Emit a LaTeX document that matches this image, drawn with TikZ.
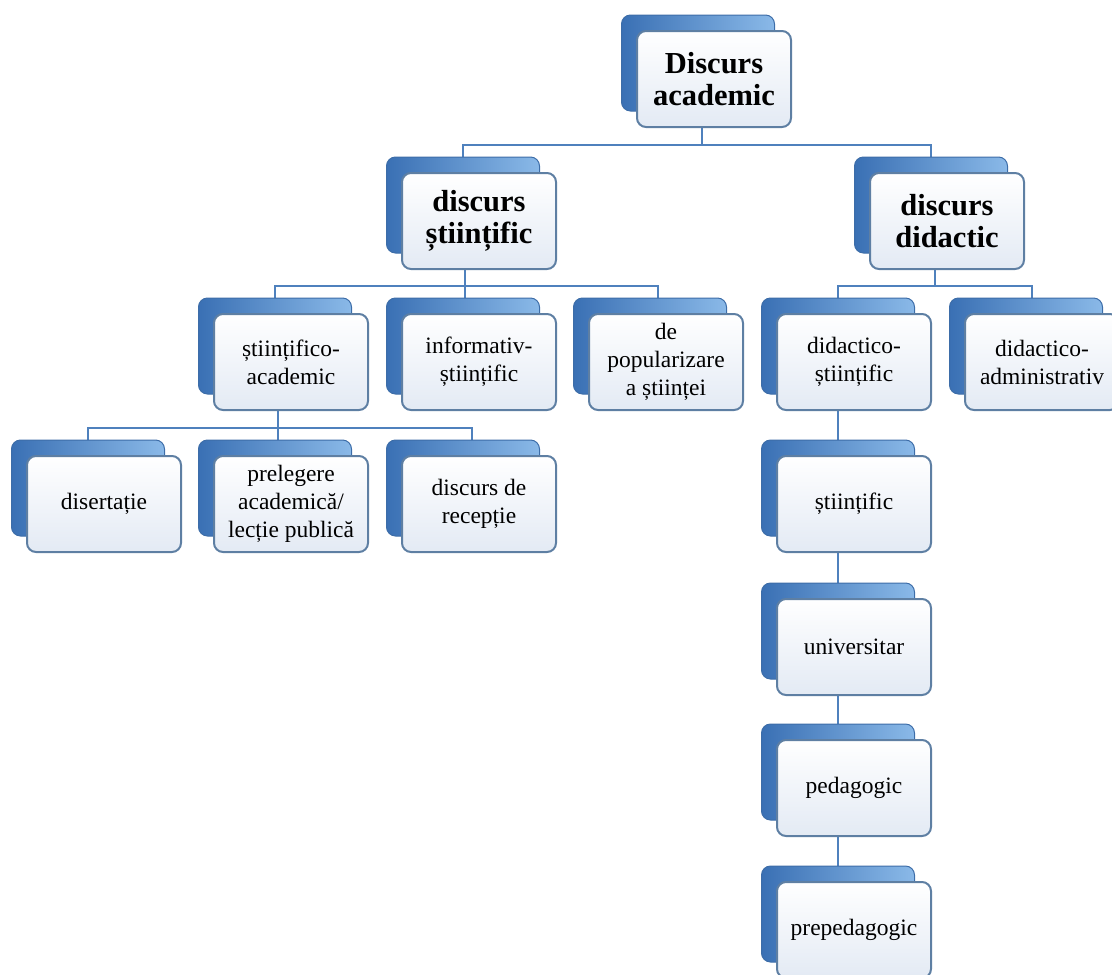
\documentclass[tikz,border=0pt]{standalone}
\usepackage{fontspec}
\setmainfont{Liberation Serif}
\usetikzlibrary{positioning, calc, backgrounds}
\definecolor{ConnBlue}{HTML}{4F81BD}
\definecolor{BackDark}{HTML}{3A70B4}
\definecolor{BackLight}{HTML}{8AB9E8}
\definecolor{BackEdge}{HTML}{3D6DA8}
\definecolor{FrontEdge}{HTML}{5E7FA3}
\definecolor{FrontFill}{HTML}{E3EAF4}

\begin{document}
\begin{tikzpicture}[
    x=1pt, y=-1pt,
    back/.style={rectangle, rounded corners=9pt, minimum width=153pt, minimum height=96pt,
                 left color=BackDark, right color=BackLight, draw=BackEdge, line width=1pt},
    front/.style={rectangle, rounded corners=9pt, minimum width=154pt, minimum height=96pt,
                  top color=white, bottom color=FrontFill, draw=FrontEdge, line width=2pt,
                  align=center, inner sep=2pt},
    head/.style={front, font=\fontsize{30.5}{32}\selectfont\bfseries},
    leaf/.style={front, font=\fontsize{23.5}{28}\selectfont},
    conn/.style={draw=ConnBlue, line width=2pt}
]
    \clip (0,0) rectangle (1112,975);

    % top
    \node[back] (rootB) at (698,63) {};
    \node[head] (root) at ([shift={(16pt,-16pt)}]rootB.center) {Discurs\\academic};

    % first level
    \node[back] (sciB) at (463,205) {};
    \node[head] (sci) at ([shift={(16pt,-16pt)}]sciB.center) {discurs\\științific};
    \node[back] (didB) at (931,205) {};
    \node[head] (did) at ([shift={(16pt,-16pt)}]didB.center) {discurs\\didactic};

    % second level
    \node[back] (saB) at (275,346) {};
    \node[leaf] (sa) at ([shift={(16pt,-16pt)}]saB.center) {științifico-\\academic};
    \node[back] (isB) at (463,346) {};
    \node[leaf] (is) at ([shift={(16pt,-16pt)}]isB.center) {informativ-\\științific};
    \node[back] (popB) at (650,346) {};
    \node[leaf] (pop) at ([shift={(16pt,-16pt)}]popB.center) {de\\popularizare\\a științei};
    \node[back] (dsB) at (838,346) {};
    \node[leaf] (ds) at ([shift={(16pt,-16pt)}]dsB.center) {didactico-\\științific};
    \node[back] (daB) at (1026,346) {};
    \node[leaf] (da) at ([shift={(16pt,-16pt)}]daB.center) {didactico-\\administrativ};

    % third level
    \node[back] (disB) at (88,488) {};
    \node[leaf] (dis) at ([shift={(16pt,-16pt)}]disB.center) {disertație};
    \node[back] (prelB) at (275,488) {};
    \node[leaf] (prel) at ([shift={(16pt,-16pt)}]prelB.center) {prelegere\\academică/\\lecție publică};
    \node[back] (recB) at (463,488) {};
    \node[leaf] (rec) at ([shift={(16pt,-16pt)}]recB.center) {discurs de\\recepție};

    % didactic column
    \node[back] (stB) at (838,488) {};
    \node[leaf] (st) at ([shift={(16pt,-16pt)}]stB.center) {științific};
    \node[back] (unB) at (838,631) {};
    \node[leaf] (un) at ([shift={(16pt,-16pt)}]unB.center) {universitar};
    \node[back] (pedB) at (838,772) {};
    \node[leaf] (ped) at ([shift={(16pt,-16pt)}]pedB.center) {pedagogic};
    \node[back] (prepB) at (838,914) {};
    \node[leaf] (prep) at ([shift={(16pt,-16pt)}]prepB.center) {prepedagogic};

    % connectors
    \begin{scope}[on background layer]
        \draw[conn] ([xshift=4pt]rootB.center) |- ([yshift=12pt]sciB.north) -- (sciB.north);
        \draw[conn] ([xshift=4pt]rootB.center) |- ([yshift=12pt]didB.north) -- (didB.north);
        \draw[conn] ([xshift=2pt]sciB.center) |- ([yshift=12pt]saB.north) -- (saB.north);
        \draw[conn] ([xshift=2pt]sciB.center) -- ([xshift=2pt]isB.north);
        \draw[conn] ([xshift=2pt]sciB.center) |- ([xshift=8pt,yshift=12pt]popB.north) -- ([xshift=8pt]popB.north);
        \draw[conn] ([xshift=4pt]didB.center) |- ([yshift=12pt]dsB.north) -- (dsB.north);
        \draw[conn] ([xshift=4pt]didB.center) |- ([xshift=6pt,yshift=12pt]daB.north) -- ([xshift=6pt]daB.north);
        \draw[conn] ([xshift=3pt]saB.center) |- ([yshift=12pt]disB.north) -- (disB.north);
        \draw[conn] ([xshift=3pt]saB.center) -- ([xshift=3pt]prelB.north);
        \draw[conn] ([xshift=3pt]saB.center) |- ([xshift=9pt,yshift=12pt]recB.north) -- ([xshift=9pt]recB.north);
        \draw[conn] (dsB.center) -- (stB.north);
        \draw[conn] (stB.center) -- (unB.north);
        \draw[conn] (unB.center) -- (pedB.north);
        \draw[conn] (pedB.center) -- (prepB.north);
    \end{scope}
\end{tikzpicture}
\end{document}
